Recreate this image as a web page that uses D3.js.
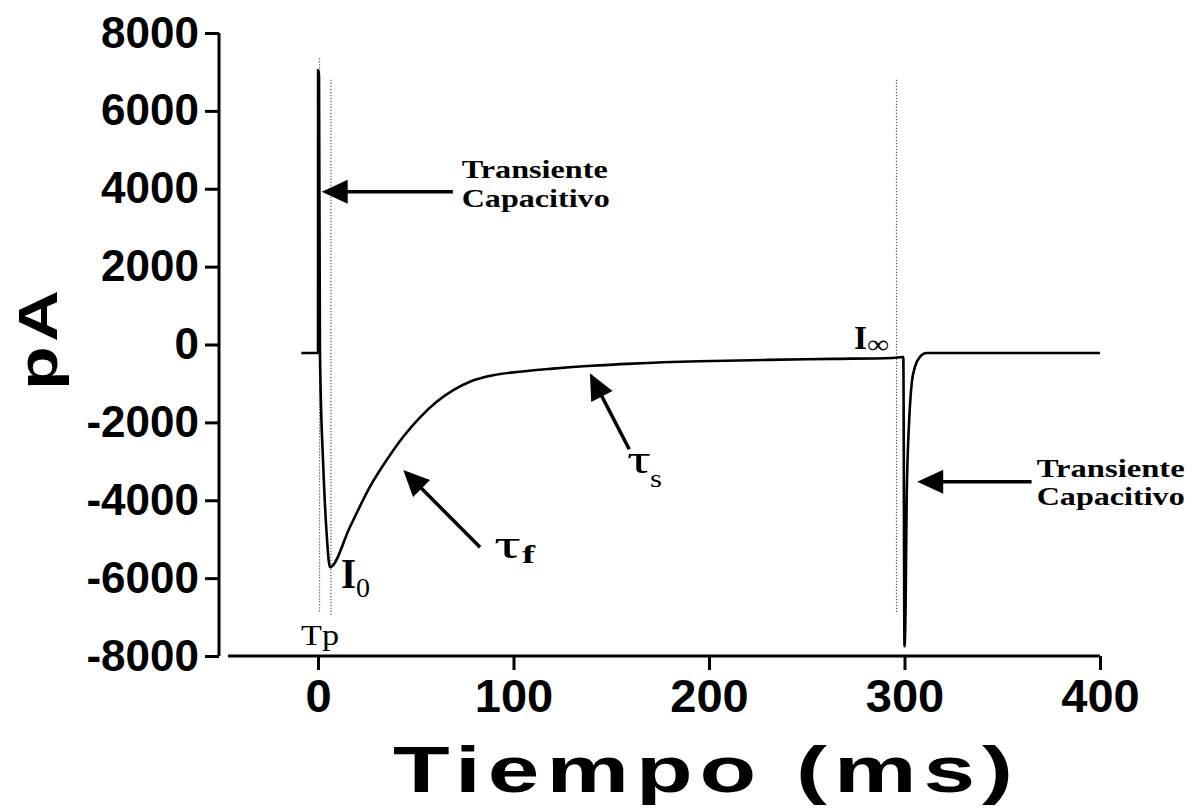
<!DOCTYPE html>
<html><head><meta charset="utf-8">
<script src="https://cdn.jsdelivr.net/npm/d3@7"></script>
<style>body{margin:0;background:#fff}svg{display:block}</style>
</head><body>
<svg id="c" width="1192" height="809"></svg>
<script>
// ---- data ----
const timeMs = [-8.5, 0, 0.05, 0.5, 1.0, 2.7, 4.4, 6.1, 16.4, 26.6, 35.1, 43.6, 52.2, 60.7, 69.2, 77.7, 89.7, 103, 120, 140, 161, 195, 230, 263, 294, 299.4, 300.0, 300.6, 301.1, 302.5, 303.7, 305.4, 307.9, 311.3, 400];
const currentPA = [-220, -220, 7050, 6900, -220, -3140, -4840, -5720, -4680, -3650, -2970, -2370, -1870, -1470, -1170, -955, -790, -700, -620, -545, -490, -430, -395, -370, -345, -320, -7750, -6560, -3990, -1850, -990, -570, -315, -220, -220];
const xTicks = [0, 100, 200, 300, 400];
const yTicks = [-8000, -6000, -4000, -2000, 0, 2000, 4000, 6000, 8000];
const markerTimes = [0.8, 6.6, 295.9];
const markerTop = [7350, 6800, 6800];
const markerBottom = [-6900, -6950, -6900];
const xLabel = "Tiempo (ms)";
const yLabel = "pA";

const svg = d3.select("#c");
const x = d3.scaleLinear().domain([0, 400]).range([318, 1100]);
const y = d3.scaleLinear().domain([-8000, 8000]).range([656, 33]);
const sans = "'Liberation Sans', Arial, sans-serif";
const serif = "'Liberation Serif', 'Times New Roman', serif";

// y axis
const yAxis = svg.append("g").attr("transform", "translate(219,0)")
  .call(d3.axisLeft(y).tickValues(yTicks).tickSize(14).tickPadding(6).tickFormat(d => String(d)));
yAxis.select(".domain").remove();
yAxis.append("line").attr("x1", 0).attr("x2", 0).attr("y1", y(8000)).attr("y2", y(-8000)).attr("stroke", "#000").attr("stroke-width", 3);
yAxis.selectAll(".tick line").attr("stroke-width", 3);
yAxis.selectAll(".tick text").attr("font-family", sans).attr("font-weight", "bold").attr("font-size", 44).attr("fill", "#000");

// x axis
const xAxis = svg.append("g").attr("transform", "translate(0,656)")
  .call(d3.axisBottom(x).tickValues(xTicks).tickSize(14).tickPadding(9).tickFormat(d => String(d)));
xAxis.select(".domain").remove();
xAxis.append("line").attr("x1", x(-46)).attr("x2", x(400)).attr("y1", 0).attr("y2", 0).attr("stroke", "#000").attr("stroke-width", 3);
xAxis.selectAll(".tick line").attr("stroke-width", 3);
xAxis.selectAll(".tick text").attr("font-family", sans).attr("font-weight", "bold").attr("font-size", 47).attr("fill", "#000");

// markers (dotted)
svg.append("g").selectAll("line").data(markerTimes).join("line")
  .attr("x1", d => x(d)).attr("x2", d => x(d))
  .attr("y1", (d, i) => y(markerTop[i])).attr("y2", (d, i) => y(markerBottom[i]))
  .attr("stroke", "#555").attr("stroke-width", 1.2).attr("stroke-dasharray", "1.2,1.8");

// trace
const line = d3.line().x((d, i) => x(timeMs[i])).y(d => y(d)).curve(d3.curveMonotoneX);
svg.append("path").datum(currentPA).attr("d", line)
  .attr("fill", "none").attr("stroke", "#000").attr("stroke-width", 2.6).attr("stroke-linejoin", "round");

// arrows (in data coordinates)
function arrow(t0, v0, t1, v1) {
  const x0 = x(t0), y0 = y(v0), x1 = x(t1), y1 = y(v1);
  const ang = Math.atan2(y1 - y0, x1 - x0);
  const L = 26, W = 12;
  const bx = x1 - L * Math.cos(ang), by = y1 - L * Math.sin(ang);
  svg.append("line").attr("x1", x0).attr("y1", y0).attr("x2", bx + 2 * Math.cos(ang)).attr("y2", by + 2 * Math.sin(ang))
    .attr("stroke", "#000").attr("stroke-width", 3.5);
  const p = [[x1, y1], [bx - W * Math.sin(ang), by + W * Math.cos(ang)], [bx + W * Math.sin(ang), by - W * Math.cos(ang)]];
  svg.append("path").attr("d", "M" + p.join("L") + "Z").attr("fill", "#000");
}
arrow(69, 3920, 1.9, 3920);
arrow(365, -3523, 306.5, -3523);
arrow(82.9, -5208, 43.6, -3223);
arrow(159.2, -2691, 139.1, -740);

function txt(s, px, py, size, weight, len, family) {
  const t = svg.append("text").attr("x", px).attr("y", py).attr("font-family", family || serif)
    .attr("font-size", size).attr("font-weight", weight).attr("fill", "#000").text(s);
  if (len) t.attr("textLength", len).attr("lengthAdjust", "spacingAndGlyphs");
  return t;
}
txt("Transiente", 461.7, 178.3, 26, "bold", 146);
txt("Capacitivo", 461.7, 206.7, 26, "bold", 148);
txt("Transiente", 1036.7, 476.7, 26, "bold", 148);
txt("Capacitivo", 1036.7, 505, 26, "bold", 148);
txt("τ", 494, 558, 42, "normal", 27);
txt("f", 522, 563, 26, "bold", 13);
txt("τ", 627, 473, 40, "normal", 24);
txt("s", 650, 487, 26, "normal", 12);
txt("I", 341, 588, 42, "bold", 15);
txt("0", 356, 597, 28, "normal", 14);
txt("I", 854, 349, 34, "bold", 13);
txt("∞", 867, 353, 26, "normal", 22);
txt("Tp", 301, 645, 30, "normal", 38);

// axis titles (glyphs widened, then spaced to the measured extent)
svg.append("g").attr("transform", "translate(393,792) scale(1.45,1)")
  .append("text").attr("font-family", sans).attr("font-weight", "bold").attr("font-size", 64).attr("fill", "#000")
  .attr("textLength", 620 / 1.45).attr("lengthAdjust", "spacing").text(xLabel);
svg.append("g").attr("transform", "translate(57,340) rotate(-90) scale(1.3,1)")
  .append("text").attr("text-anchor", "middle")
  .attr("font-family", sans).attr("font-weight", "bold").attr("font-size", 55).attr("fill", "#000")
  .attr("textLength", 100 / 1.3).attr("lengthAdjust", "spacing").text(yLabel);
</script>
</body></html>
